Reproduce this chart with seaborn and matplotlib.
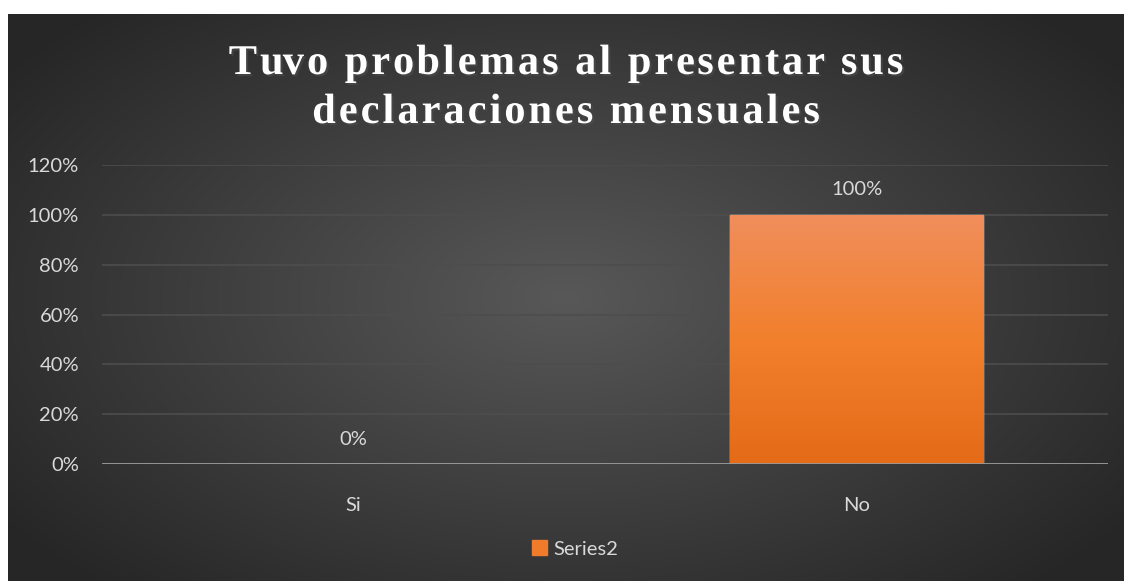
import numpy as np
import pandas as pd
import seaborn as sns
import matplotlib.pyplot as plt
import matplotlib.patheffects as pe
from matplotlib.patches import Patch

# data
categorias = ["Si", "No"]
valores = [0.0, 1.0]
serie = "Series2"
titulo = ["Tuvo problemas al presentar sus", "declaraciones mensuales"]

df = pd.DataFrame({"cat": categorias, "val": valores})

sns.set_style("dark")
plt.rcParams["font.family"] = ["Lato", "DejaVu Sans"]

W, H = 1124, 581
fig = plt.figure(figsize=(W / 100, H / 100), dpi=100)
fig.patch.set_facecolor("white")

# fondo con degradado radial
bg = fig.add_axes([8 / W, 0, (W - 8) / W, (H - 14) / H], zorder=-10)
yy, xx = np.mgrid[-1:1:300j, -1:1:600j]
r = np.sqrt(xx ** 2 + (yy * 0.9) ** 2)
r = np.clip(r / 1.25, 0, 1)
c_in, c_out = np.array([0x58, 0x58, 0x58]) / 255, np.array([0x26, 0x26, 0x26]) / 255
img = c_in[None, None, :] * (1 - r[..., None]) + c_out[None, None, :] * r[..., None]
bg.imshow(img, aspect="auto", extent=[0, 1, 0, 1])
bg.set_axis_off()

ax = fig.add_axes([102 / W, 117 / H, (1108 - 102) / W, 299 / H])
ax.patch.set_alpha(0)
sns.barplot(data=df, x="cat", y="val", color="#F07B2A", width=0.503, ax=ax,
            saturation=1, zorder=3)

# degradado en las barras
grad = np.linspace(0, 1, 256)[:, None]
top, bot = np.array([0xF0, 0x8E, 0x5C]) / 255, np.array([0xE4, 0x6B, 0x18]) / 255
mid = np.array([0xF2, 0x80, 0x2C]) / 255
gimg = np.where(grad < 0.5,
                top * (1 - grad * 2) + mid * (grad * 2),
                mid * (1 - (grad - 0.5) * 2) + bot * ((grad - 0.5) * 2))
gimg = gimg[:, None, :] * np.ones((1, 2, 1))
for p in ax.patches:
    x0, y0, w, h = p.get_x(), p.get_y(), p.get_width(), p.get_height()
    if h <= 0:
        continue
    im = ax.imshow(gimg, extent=[x0, x0 + w, y0, y0 + h], aspect="auto", zorder=4)
    im.set_clip_path(p)

ax.set_xlim(-0.5, 1.5)
ax.set_ylim(0, 1.2)
ax.set_yticks(np.arange(0, 1.21, 0.2))
ax.set_yticklabels([f"{int(round(v * 100))}%" for v in np.arange(0, 1.21, 0.2)])
ax.grid(axis="y", color="#4d4d4d", linewidth=1.2, zorder=0)
ax.grid(axis="x", visible=False)
ax.axhline(0, color="#9a9a9a", linewidth=2, zorder=5)
for s in ax.spines.values():
    s.set_visible(False)
ax.tick_params(axis="both", length=0, colors="#d9d9d9", labelsize=14.5)
ax.tick_params(axis="y", pad=16.5)
ax.tick_params(axis="x", pad=24)
ax.set_xlabel("")
ax.set_ylabel("")

for i, v in enumerate(valores):
    ax.text(i, v + 0.1, f"{int(round(v * 100))}%", ha="center", va="center",
            color="#d9d9d9", fontsize=14.5)

# titulo con espaciado entre letras
renderer = fig.canvas.get_renderer()
tstyle = dict(family=["Liberation Serif", "DejaVu Serif"], fontweight="bold",
              fontsize=30.5, color="white",
              path_effects=[pe.withSimplePatchShadow(offset=(1.5, -1.5), alpha=0.6)])
track = 3.0  # px entre letras
baselines = [74, 123]
cx = 566


def ancho(s):
    if not s:
        return 0.0
    t = fig.text(0, 0, s, **tstyle)
    w = t.get_window_extent(renderer).width
    t.remove()
    return w


for linea, yb in zip(titulo, baselines):
    total = ancho(linea) + track * (len(linea) - 1)
    x_ini = cx - total / 2
    for k, ch in enumerate(linea):
        if ch == " ":
            continue
        xk = x_ini + ancho(linea[:k]) + track * k
        fig.text(xk / W, (H - yb) / H, ch, ha="left", va="baseline", **tstyle)

fig.legend(handles=[Patch(color="#F07B2A", label=serie)], loc="center",
           bbox_to_anchor=(575 / W, (H - 549) / H), frameon=False,
           labelcolor="#d9d9d9", fontsize=14.5, handlelength=0.75, handleheight=0.75,
           handletextpad=0.3)

fig.savefig("out.png", dpi=100)
